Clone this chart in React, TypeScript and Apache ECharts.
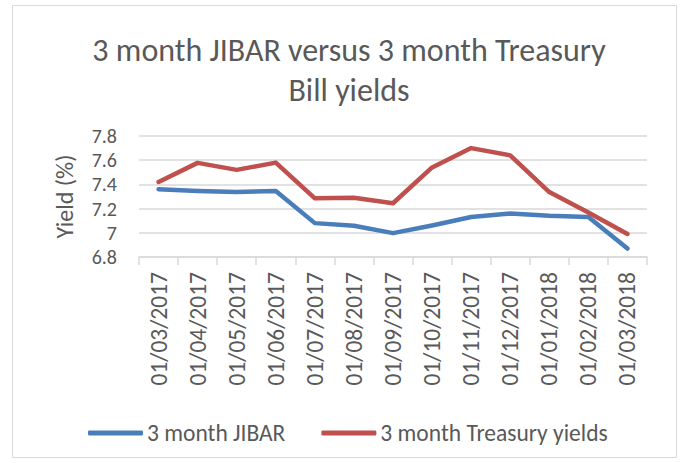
import React, { useEffect, useRef } from "react";
import * as echarts from "echarts";

const categories = [
  "01/03/2017", "01/04/2017", "01/05/2017", "01/06/2017", "01/07/2017", "01/08/2017",
  "01/09/2017", "01/10/2017", "01/11/2017", "01/12/2017", "01/01/2018", "01/02/2018", "01/03/2018",
];
const jibar = [7.36, 7.345, 7.337, 7.345, 7.08, 7.058, 6.997, 7.06, 7.13, 7.16, 7.14, 7.13, 6.87];
const treasury = [7.42, 7.578, 7.52, 7.58, 7.285, 7.29, 7.244, 7.54, 7.7, 7.64, 7.337, 7.167, 6.99];
const yTicks = [6.8, 7, 7.2, 7.4, 7.6, 7.8];

const FONT = "Carlito, 'Liberation Sans Narrow', 'Open Sans', sans-serif";
const TXT = "#595959";

export default function App() {
  const ref = useRef<HTMLDivElement>(null);
  useEffect(() => {
    const chart = echarts.init(ref.current!, null, { renderer: "svg" });
    chart.setOption({
      animation: false,
      textStyle: { fontFamily: FONT },
      graphic: [
        {
          type: "rect",
          shape: { x: 12.5, y: 5.5, width: 664, height: 452 },
          style: { fill: "none", stroke: "#d9d9d9", lineWidth: 1 },
        },
      ],
      title: {
        text: "3 month JIBAR versus 3 month Treasury\nBill yields",
        left: 344,
        textAlign: "center",
        top: 25,
        textStyle: { fontFamily: FONT, fontSize: 32, fontWeight: "normal", color: TXT, lineHeight: 40 },
      },
      legend: {
        left: 83,
        top: 416,
        itemWidth: 55,
        itemHeight: 5,
        itemGap: 36,
        textStyle: { fontFamily: FONT, fontSize: 23.5, color: TXT, padding: [0, 0, 0, -1] },
        data: [
          { name: "3 month JIBAR", icon: "roundRect" },
          { name: "3 month Treasury yields", icon: "roundRect" },
        ],
      },
      grid: { left: 139, right: 35, top: 136, bottom: 206, containLabel: false },
      xAxis: {
        type: "category",
        data: categories,
        boundaryGap: true,
        axisLine: { lineStyle: { color: "#d9d9d9", width: 1.5 } },
        axisTick: { show: true, length: 8, lineStyle: { color: "#d9d9d9", width: 1.5 } },
        axisLabel: { rotate: 90, fontFamily: FONT, fontSize: 23.5, color: TXT, margin: 15 },
      },
      yAxis: {
        type: "value",
        min: yTicks[0],
        max: yTicks[yTicks.length - 1],
        interval: 0.2,
        name: "Yield (%)",
        nameLocation: "middle",
        nameGap: 63,
        nameRotate: 90,
        nameTextStyle: { fontFamily: FONT, fontSize: 24, color: TXT },
        axisLine: { show: false },
        axisTick: { show: false },
        splitLine: { lineStyle: { color: "#d9d9d9", width: 1.5 } },
        axisLabel: {
          fontFamily: FONT,
          fontSize: 20,
          lineHeight: 20,
          color: TXT,
          margin: 22,
          formatter: (v: number) => String(Math.round(v * 10) / 10),
        },
      },
      series: [
        {
          name: "3 month JIBAR",
          type: "line",
          data: jibar,
          showSymbol: false,
          symbol: "none",
          lineStyle: { color: "#4a7ebb", width: 4.5, cap: "round", join: "round" },
          itemStyle: { color: "#4a7ebb" },
        },
        {
          name: "3 month Treasury yields",
          type: "line",
          data: treasury,
          showSymbol: false,
          symbol: "none",
          lineStyle: { color: "#c0504d", width: 4.5, cap: "round", join: "round" },
          itemStyle: { color: "#c0504d" },
        },
      ],
    });
    return () => chart.dispose();
  }, []);
  return (
    <div
      ref={ref}
      style={{ position: "absolute", left: 0, top: 0, width: 682, height: 463, background: "#fff" }}
    />
  );
}
